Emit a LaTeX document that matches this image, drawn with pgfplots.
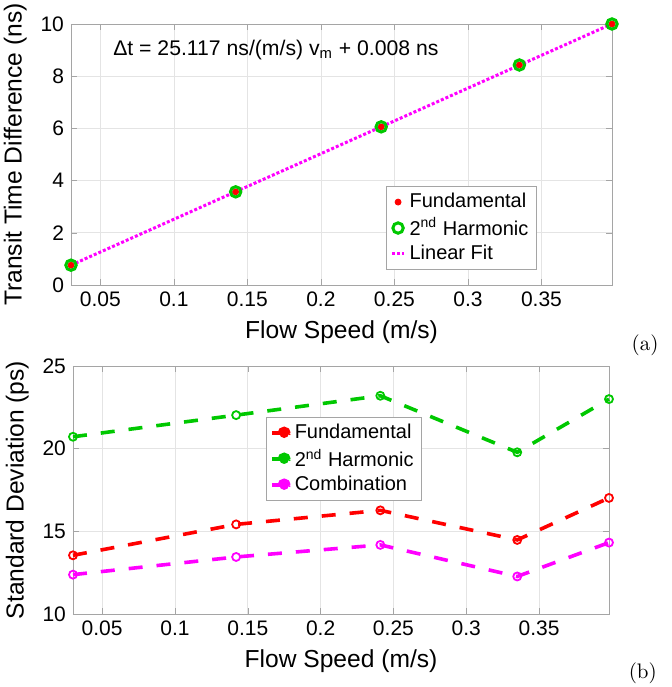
\documentclass[border=0pt]{standalone}
\usepackage{pgfplots}
\pgfplotsset{compat=1.18}
\usepackage{fontspec}
\newfontfamily\arial{Liberation Sans}

\definecolor{mred}{RGB}{255,0,0}
\definecolor{mgreen}{RGB}{0,200,0}
\definecolor{mmag}{RGB}{255,0,255}
\definecolor{gridgray}{RGB}{228,228,228}
\definecolor{framegray}{RGB}{165,165,165}

\pgfplotsset{
  mstyle/.style={
    scale only axis,
    clip=false,
    font=\arial\fontsize{10.5}{12}\selectfont,
    /pgf/number format/assume math mode=true,
    axis line style={framegray},
    major tick length=3pt,
    tick style={framegray},
    tick align=inside,
    xmajorgrids, ymajorgrids,
    grid style={gridgray, line width=0.4pt},
    label style={font=\arial\fontsize{12.3}{14}\selectfont},
    xmin=0.03, xmax=0.398,
    xtick={0.05,0.1,0.15,0.2,0.25,0.3,0.35},
    xticklabels={0.05,0.1,0.15,0.2,0.25,0.3,0.35},
    scaled x ticks=false,
    xlabel={Flow Speed (m/s)},
    legend style={font=\arial\fontsize{10}{12}\selectfont, draw=framegray,
      inner xsep=2pt, inner ysep=1.5pt, row sep=-0.5pt, cells={anchor=west}},
  },
  fitleg/.style={legend image code/.code={\draw[##1] (0pt,0pt) -- (6pt,0pt);}},
  markleg/.style={legend image code/.code={\draw[##1] plot coordinates {(3pt,0pt)};}},
  dotleg/.style={legend image code/.code={
    \draw[##1, solid, line width=1.8pt] (0pt,0pt) -- (6pt,0pt);
    \fill[##1] (6pt,0pt) circle (2.4pt);}},
  dline/.style={line width=1.8pt, dash pattern=on 7pt off 7pt,
    mark=o, mark size=2pt, mark options={solid, line width=0.9pt, fill=white}},
}

\begin{document}
\begin{tikzpicture}
% (a) transit time difference
\begin{axis}[mstyle, name=top, at={(0pt,0pt)}, anchor=south west,
  width=270.5pt, height=130.5pt,
  ymin=0, ymax=10, ytick={0,2,4,6,8,10},
  ylabel={Transit Time Difference (ns)},
  legend style={at={(rel axis cs:0.861,0.057)}, anchor=south east}]
\addplot[only marks, mark=*, mark size=1.5pt, mred, markleg] coordinates {
  (0.030,0.76) (0.142,3.57) (0.241,6.06) (0.335,8.43) (0.398,10.00)};
\addlegendentry{Fundamental}
\addplot[only marks, mark=o, mark size=2.6pt, mgreen, line width=1.5pt, markleg] coordinates {
  (0.030,0.76) (0.142,3.57) (0.241,6.06) (0.335,8.43) (0.398,10.00)};
\addlegendentry{2\textsuperscript{nd} Harmonic}
\addplot[mmag, line width=1.5pt, dash pattern=on 1.5pt off 1pt, fitleg] coordinates {
  (0.030,0.7615) (0.398,10.0046)};
\addlegendentry{Linear Fit}
\node[anchor=west, inner sep=0pt, font=\arial\fontsize{10.6}{12}\selectfont] at (axis cs:0.0585,9.0)
  {Δt = 25.117 ns/(m/s) v\textsubscript{m} + 0.008 ns};
\node[font=\normalfont\fontsize{10.5}{12}\selectfont] at (rel axis cs:1.061,-0.23) {(a)};
\end{axis}

% (b) standard deviation
\begin{axis}[mstyle, at={(1pt,-164.5pt)}, anchor=south west,
  width=268pt, height=124pt,
  ymin=10, ymax=25, ytick={10,15,20,25},
  ylabel={Standard Deviation (ps)},
  legend style={at={(rel axis cs:0.36,0.794)}, anchor=north west}, dotleg]
\addplot[mred, dline] coordinates {
  (0.030,13.55) (0.142,15.42) (0.241,16.27) (0.335,14.48) (0.398,17.02)};
\addlegendentry{Fundamental}
\addplot[mgreen, dline] coordinates {
  (0.030,20.72) (0.142,22.03) (0.241,23.20) (0.335,19.78) (0.398,23.00)};
\addlegendentry{2\textsuperscript{nd} Harmonic}
\addplot[mmag, dline] coordinates {
  (0.030,12.38) (0.142,13.45) (0.241,14.18) (0.335,12.27) (0.398,14.32)};
\addlegendentry{Combination}
\node[font=\normalfont\fontsize{10.5}{12}\selectfont] at (rel axis cs:1.063,-0.238) {(b)};
\end{axis}

\pgfresetboundingbox
\path (-35.5pt,142.5pt) rectangle (300.5pt,-201pt);
\end{tikzpicture}
\end{document}
